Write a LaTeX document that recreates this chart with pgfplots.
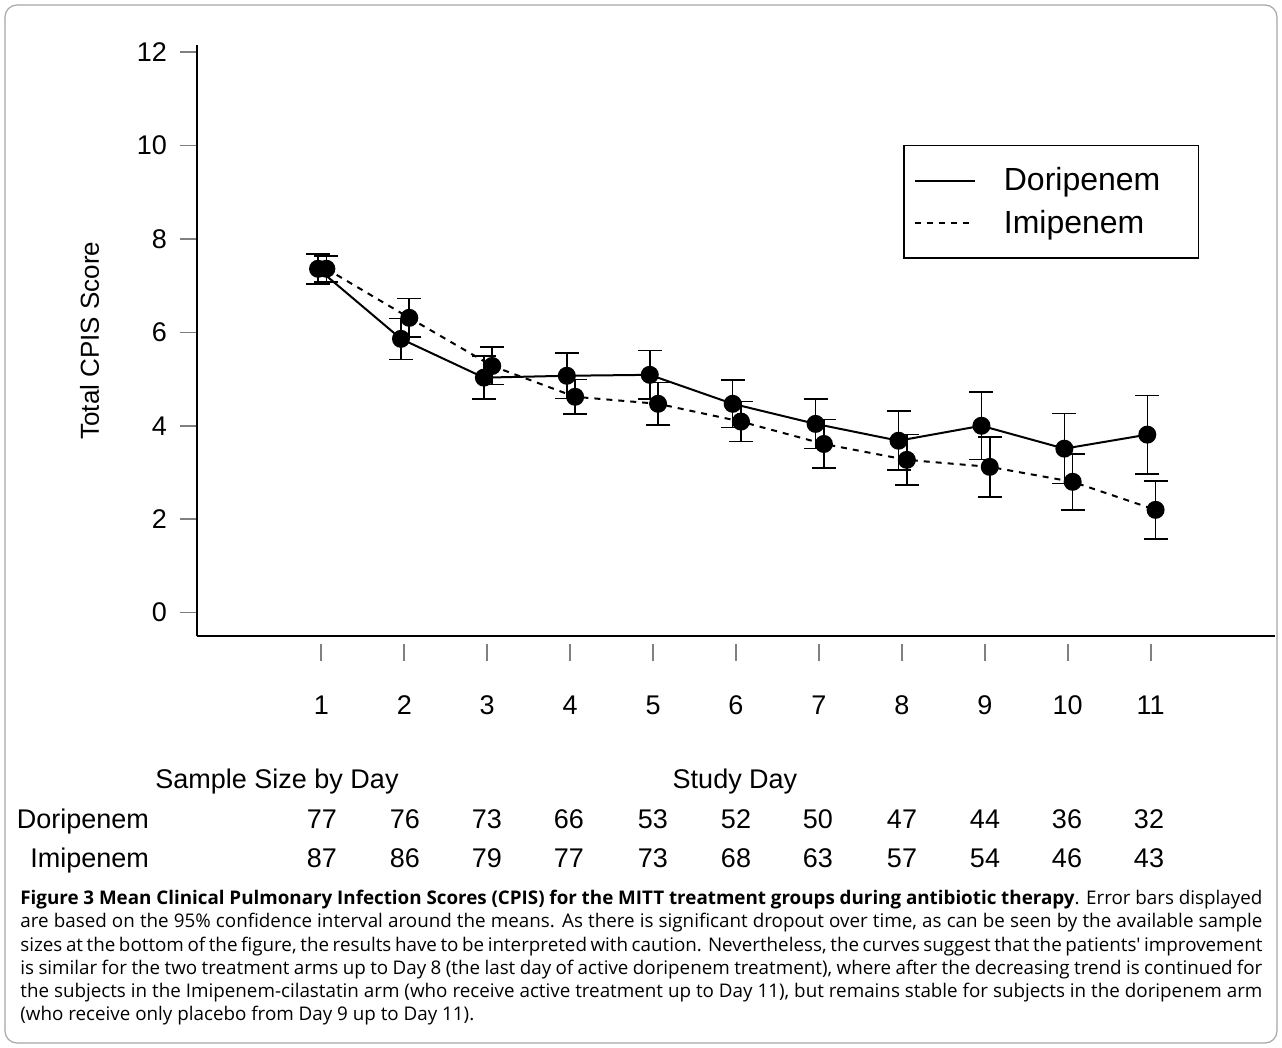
\documentclass[border=0pt]{standalone}
\usepackage{pgfplots}
\pgfplotsset{compat=1.18}
\usepackage{fontspec}
\setmainfont{Liberation Sans}
\newfontfamily\capfont{Open Sans}
\begin{document}
\begin{tikzpicture}
\useasboundingbox (0,0) rectangle (641pt,-524pt);
\draw[gray!70,line width=0.6pt,rounded corners=6pt] (2.5pt,-2.5pt) rectangle (638.5pt,-521.5pt);
\begin{axis}[at={(98.5pt,-318pt)},anchor=south west,scale only axis,
 width=539pt,height=295.5pt,
 xmin=-0.5,xmax=12.5,ymin=-0.5,ymax=12.15,
 axis x line=bottom, axis y line=left, axis line style={-,line width=0.8pt},
 xtick={1,...,11}, ytick={0,2,...,12},
 tick align=outside, major tick length=8.5pt,
 xtick style={line width=1pt,yshift=-4pt},
 ytick style={line width=0.8pt},
 xticklabel style={yshift=-17pt,text height=10pt,text depth=0pt},
 yticklabel style={xshift=-3pt},
 ticklabel style={font=\fontsize{13.5}{16}\selectfont},
 /pgf/number format/assume math mode=true,
 ylabel={Total CPIS Score}, ylabel style={font=\fontsize{13}{16}\selectfont, yshift=12pt},
 clip=false,
 legend style={at={(0.655,0.831)},anchor=north west,draw=black,line width=0.8pt,
   font=\fontsize{16}{19}\selectfont, inner xsep=5pt, inner ysep=9pt, row sep=4pt,
   nodes={inner xsep=14pt}},
 legend cell align=left,
 legend image code/.code={\draw[#1,mark=none] (0pt,0pt) -- (30pt,0pt);},
]
\addplot[black,line width=1pt,mark=*,mark size=4pt,
 error bars/.cd,y dir=both,y explicit,error bar style={line width=0.8pt},error mark options={rotate=90,mark size=6pt,line width=0.8pt}]
 coordinates {
 (0.96,7.36) +- (0,0.32)
 (1.96,5.86) +- (0,0.44)
 (2.96,5.03) +- (0,0.46)
 (3.96,5.07) +- (0,0.49)
 (4.96,5.09) +- (0,0.52)
 (5.96,4.47) +- (0,0.51)
 (6.96,4.04) +- (0,0.53)
 (7.96,3.68) +- (0,0.63)
 (8.96,4.00) +- (0,0.72)
 (9.96,3.51) +- (0,0.75)
 (10.96,3.81) +- (0,0.84)};
\addlegendentry{Doripenem}
\addplot[black,line width=1pt,dashed,mark=*,mark size=4pt,mark options={solid},
 error bars/.cd,y dir=both,y explicit,error bar style={line width=0.8pt,solid},error mark options={rotate=90,mark size=6pt,line width=0.8pt,solid}]
 coordinates {
 (1.06,7.36) +- (0,0.28)
 (2.06,6.31) +- (0,0.41)
 (3.06,5.28) +- (0,0.40)
 (4.06,4.62) +- (0,0.37)
 (5.06,4.47) +- (0,0.46)
 (6.06,4.09) +- (0,0.43)
 (7.06,3.61) +- (0,0.52)
 (8.06,3.27) +- (0,0.54)
 (9.06,3.12) +- (0,0.64)
 (10.06,2.80) +- (0,0.60)
 (11.06,2.20) +- (0,0.62)};
\addlegendentry{Imipenem}
\end{axis}
\begin{scope}[x=0.5pt,y=-0.5pt,every node/.style={font=\fontsize{13.5}{16}\selectfont,text height=10pt,text depth=0pt}]
\node at (277,779) {Sample Size by Day};
\node at (735,779) {Study Day};
\node[anchor=east] at (156,818) {Doripenem};
\node[anchor=east] at (156,857) {Imipenem};
\foreach \x/\a/\b in {322/77/87,405/76/86,487/73/79,569/66/77,653/53/73,736/52/68,818/50/63,902/47/57,985/44/54,1067/36/46,1149/32/43}{
 \node at (\x,818) {\a};
 \node at (\x,857) {\b};
}
\end{scope}
\node[anchor=north west,text width=621pt,inner sep=0pt,align=justify,font=\capfont\fontsize{9.4}{11.6}\selectfont] at (10pt,-445pt)
{\textbf{Figure 3 Mean Clinical Pulmonary Infection Scores (CPIS) for the MITT treatment groups during antibiotic therapy}. Error bars displayed are based on the 95\% confidence interval around the means. As there is significant dropout over time, as can be seen by the available sample sizes at the bottom of the figure, the results have to be interpreted with caution. Nevertheless, the curves suggest that the patients' improvement is similar for the two treatment arms up to Day 8 (the last day of active doripenem treatment), where after the decreasing trend is continued for the subjects in the Imipenem-cilastatin arm (who receive active treatment up to Day 11), but remains stable for subjects in the doripenem arm (who receive only placebo from Day 9 up to Day 11).};
\end{tikzpicture}
\end{document}
